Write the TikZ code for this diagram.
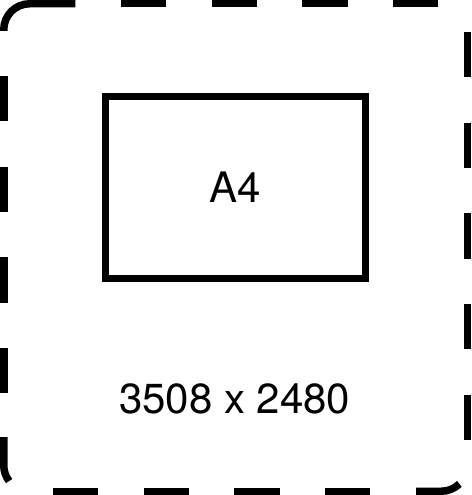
\documentclass[tikz,border=0pt]{standalone}
\usepackage{fontspec}
\setmainfont{TeX Gyre Heros}
\begin{document}
\begin{tikzpicture}[x=1pt,y=-1pt,
  edge/.style={line width=7.5pt, line cap=butt},
  dashedge/.style={edge, dash pattern=on 45.3pt off 45.4pt},
  sheet/.style={draw, line width=7pt, minimum width=260.8pt, minimum height=182pt, inner sep=0pt},
  label/.style={font=\fontsize{42}{48}\selectfont, inner sep=0pt, anchor=base}]
\useasboundingbox (0,0) rectangle (471,495);
% straight dashed runs
\draw[dashedge] (121,3.75) -- (438.6,3.75);
\draw[dashedge] (467.25,32) -- (467.25,441);
\draw[dashedge] (53,491.25) -- (371,491.25);
\draw[dashedge] (3.75,76) -- (3.75,393.5);
% dashes that run round the corners
\draw[edge] (3.75,31) -- (3.75,29.75) arc[start angle=180, end angle=90, radius=26pt] -- (75.3,3.75);
\draw[edge] (416,491.25) -- (441.25,491.25) arc[start angle=270, end angle=314.2, radius=26pt];
\draw[edge] (3.75,437) -- (3.75,465.25) arc[start angle=180, end angle=217.5, radius=26pt];
\node[sheet] (a4box) at (235.4,187.7) {};
\node[label] (a4) at (235.2,202.7) {A4};
\node[label] (dims) at (234.7,413.3) {3508 x 2480};
\end{tikzpicture}
\end{document}
